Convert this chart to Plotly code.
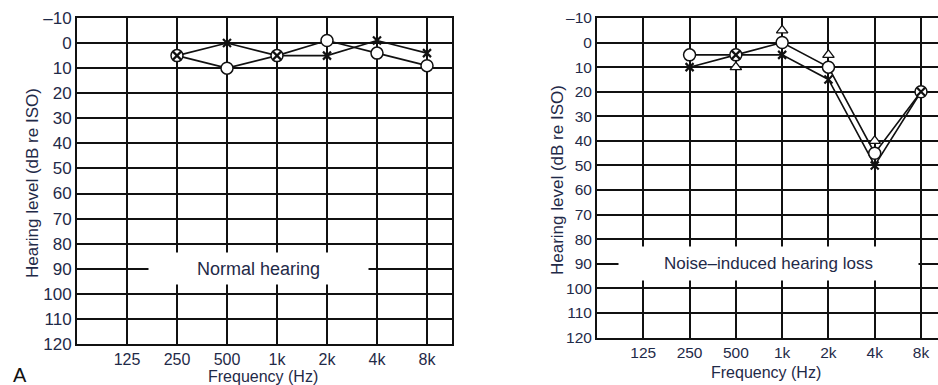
import math
import plotly.graph_objects as go

# ---------------- data ----------------
freqs = [125, 250, 500, 1000, 2000, 4000, 8000]
freq_labels = ["125", "250", "500", "1k", "2k", "4k", "8k"]
levels = [-10, 0, 10, 20, 30, 40, 50, 60, 70, 80, 90, 100, 110, 120]
level_labels = ["–10"] + [str(v) for v in levels[1:]]

# Panel A: normal hearing
a_freq = [250, 500, 1000, 2000, 4000, 8000]
a_circle = [5, 10, 5, -1, 4, 9]      # O (right ear)
a_cross = [5, 0, 5, 5, -1, 4]        # X (left ear)

# Panel B: noise-induced hearing loss
b_freq = [250, 500, 1000, 2000, 4000, 8000]
b_circle = [5, 5, 0, 10, 45, 20]
b_cross = [10, 5, 5, 15, 50, 20]
b_tri_freq = [500, 1000, 2000, 4000]
b_tri = [10, -5, 5, 40]

TXT = "#1f2a48"
FONT = "Liberation Sans, Arial, sans-serif"
INK = "#111111"

fig = go.Figure()


def add_panel(xa, ya, fr, circ, cross, tri_f=None, tri=None):
    fig.add_trace(go.Scatter(x=fr, y=circ, mode="lines", xaxis=xa, yaxis=ya,
                             line=dict(color=INK, width=1.6), showlegend=False, hoverinfo="skip"))
    fig.add_trace(go.Scatter(x=fr, y=cross, mode="lines", xaxis=xa, yaxis=ya,
                             line=dict(color=INK, width=1.6), showlegend=False, hoverinfo="skip"))
    if tri_f is not None:
        fig.add_trace(go.Scatter(x=tri_f, y=tri, mode="markers", xaxis=xa, yaxis=ya,
                                 marker=dict(symbol="triangle-up", size=10, color="white",
                                             line=dict(color=INK, width=1.3)),
                                 showlegend=False))
    fig.add_trace(go.Scatter(x=fr, y=circ, mode="markers", xaxis=xa, yaxis=ya,
                             marker=dict(symbol="circle", size=12, color="white",
                                         line=dict(color=INK, width=1.5)),
                             showlegend=False))
    fig.add_trace(go.Scatter(x=fr, y=cross, mode="markers", xaxis=xa, yaxis=ya,
                             marker=dict(symbol="x-thin", size=8, color=INK,
                                         line=dict(color=INK, width=2.2)),
                             showlegend=False))


add_panel("x", "y", a_freq, a_circle, a_cross)
add_panel("x2", "y2", b_freq, b_circle, b_cross, b_tri_freq, b_tri)

W, H = 938, 385


def px_x(p):
    return p / W


def px_y(p):
    return 1 - p / H


def xaxis(dom, rng, size, anchor):
    return dict(type="log", domain=dom, range=rng, tickvals=freqs, ticktext=freq_labels,
                showgrid=True, gridcolor=INK, gridwidth=2, zeroline=False,
                showline=True, linecolor=INK, linewidth=2, mirror=True,
                ticks="", tickfont=dict(family=FONT, size=size, color=TXT),
                anchor=anchor, automargin=False, fixedrange=True)


def yaxis(dom, size, anchor):
    return dict(domain=dom, range=[120, -10], tickvals=levels, ticktext=level_labels,
                showgrid=True, gridcolor=INK, gridwidth=2, zeroline=False,
                showline=True, linecolor=INK, linewidth=2, mirror=True,
                ticks="", tickfont=dict(family=FONT, size=size, color=TXT),
                anchor=anchor, automargin=False, fixedrange=True)


lo = math.log10(62.5)
fig.update_layout(
    width=W, height=H,
    margin=dict(l=0, r=0, t=0, b=0, autoexpand=False),
    paper_bgcolor="white", plot_bgcolor="white",
    showlegend=False,
    xaxis=xaxis([px_x(77), px_x(452)], [lo, math.log10(8000 * 2 ** 0.5)], 16, "y"),
    yaxis=yaxis([px_y(344), px_y(18)], 17, "x"),
    xaxis2=xaxis([px_x(597), 1.0], [lo, math.log10(62.5 * 2 ** 7.367)], 15.5, "y2"),
    yaxis2=yaxis([px_y(337.5), px_y(18)], 15.5, "x2"),
)


def label(x, y, text, size, angle=0, color=TXT):
    return dict(x=x, y=y, xref="paper", yref="paper", text=text, textangle=angle,
                showarrow=False, xanchor="center", yanchor="middle",
                font=dict(family=FONT, size=size, color=color))


ann = []
ann.append(dict(x=math.log10(779), y=90, xref="x", yref="y", text="Normal hearing",
                showarrow=False, bgcolor="white", width=217, height=29,
                xanchor="center", yanchor="middle",
                font=dict(family=FONT, size=18, color=TXT)))
ann.append(dict(x=math.log10(62.5 * 2 ** ((769 - 597) / 46.33)), y=90, xref="x2", yref="y2",
                text="Noise–induced hearing loss", showarrow=False, bgcolor="white",
                width=297, height=31, xanchor="center", yanchor="middle",
                font=dict(family=FONT, size=17, color=TXT)))
ann.append(label(px_x(32), px_y(183), "Hearing level (dB re ISO)", 17, -90))
ann.append(label(px_x(263), px_y(376), "Frequency (Hz)", 16))
ann.append(label(px_x(558), px_y(180), "Hearing level (dB re ISO)", 17, -90))
ann.append(label(px_x(766), px_y(372), "Frequency (Hz)", 16))
ann.append(label(px_x(20), px_y(375), "A", 20, 0, "#111111"))
fig.update_layout(annotations=ann)

fig.write_html("out.html", config={"displayModeBar": False},
               post_script="document.body.style.margin='0px';document.body.style.overflow='hidden';")
